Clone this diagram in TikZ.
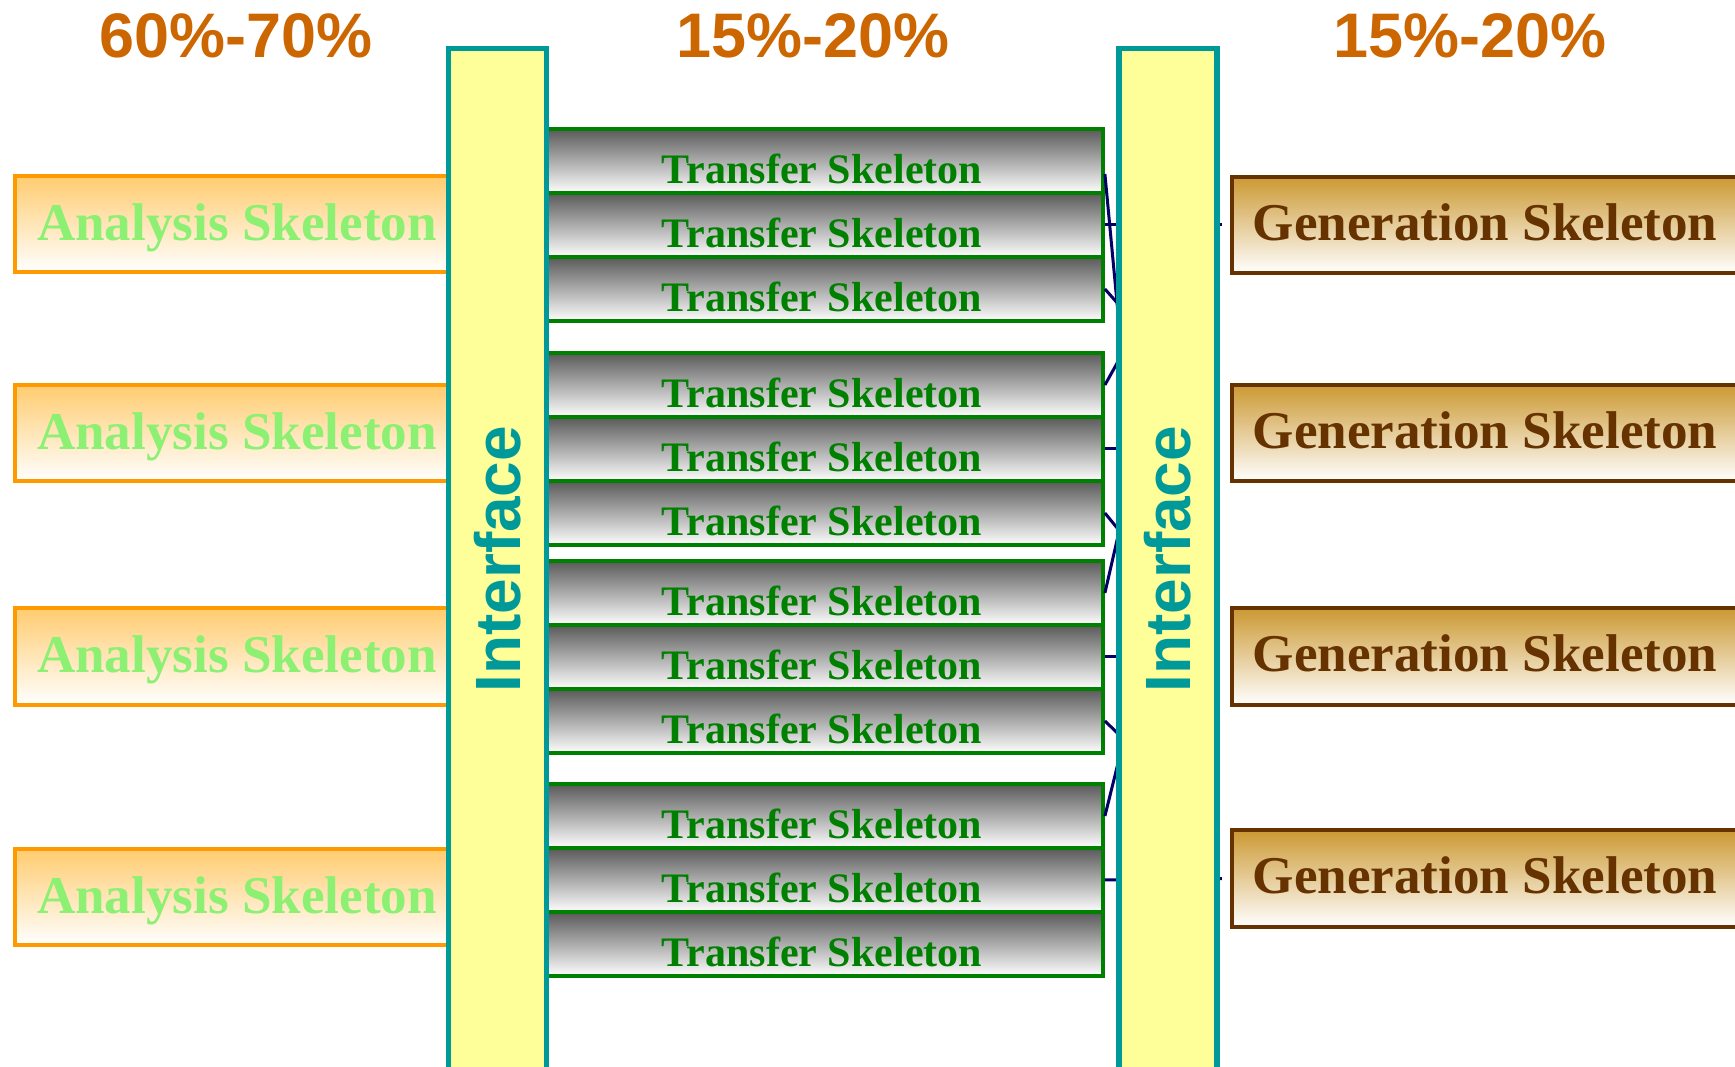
\documentclass[tikz,border=0pt]{standalone}
\usepackage{fontspec}
\setmainfont{Liberation Serif}
\newfontfamily\headfont{Liberation Sans}
\definecolor{titleorange}{HTML}{CC6600}
\definecolor{anaorange}{HTML}{FF9900}
\definecolor{anafill}{HTML}{FFCC70}
\definecolor{anagreen}{RGB}{140,240,115}
\definecolor{genbrown}{HTML}{663300}
\definecolor{genfill}{HTML}{CC9933}
\definecolor{trgreen}{HTML}{008000}
\definecolor{ifteal}{HTML}{009999}
\definecolor{ifyellow}{HTML}{FFFF99}
\definecolor{linknavy}{HTML}{000066}
\begin{document}
\begin{tikzpicture}[x=0.01cm,y=-0.01cm,
  share/.style={anchor=base, text=titleorange, font=\headfont\fontsize{17.9}{20}\selectfont\bfseries},
  analysis/.style={draw=anaorange, line width=0.04cm, top color=anafill, bottom color=white,
    minimum width=4.44cm, minimum height=0.96cm, inner sep=0pt, text height=0.32cm, text depth=0pt,
    text=anagreen, font=\fontsize{15.1}{18}\selectfont\bfseries},
  transfer/.style={draw=trgreen, line width=0.035cm, top color=black!65, middle color=black!22, bottom color=white,
    minimum width=5.62cm, minimum height=0.64cm, inner sep=0pt, text height=0.44cm, text depth=0pt,
    text=trgreen, font=\fontsize{11.95}{14}\selectfont\bfseries},
  generation/.style={draw=genbrown, line width=0.04cm, top color=genfill, bottom color=white,
    minimum width=5.06cm, minimum height=0.96cm, inner sep=0pt, text height=0.30cm, text depth=0pt,
    text=genbrown, font=\fontsize{15.1}{18}\selectfont\bfseries},
  interface/.style={draw=ifteal, line width=0.055cm, fill=ifyellow, rotate=90,
    minimum width=10.21cm, minimum height=0.975cm, inner sep=0pt,
    text=ifteal, font=\headfont\fontsize{18.2}{20}\selectfont\bfseries},
  link/.style={draw=linknavy, line width=0.03cm}]
\useasboundingbox (0,0) rectangle (1735,1067);

% shares of the effort
\node[share] (title1) at (236,58) {60\%-70\%};
\node[share] (title2) at (813,58) {15\%-20\%};
\node[share] (title3) at (1470,58) {15\%-20\%};

% analysis side
\node[analysis] (a1) at (237,224) {Analysis Skeleton};
\node[analysis] (a2) at (237,433) {Analysis Skeleton};
\node[analysis] (a3) at (237,656.5) {Analysis Skeleton};
\node[analysis] (a4) at (237,897) {Analysis Skeleton};

% transfer skeletons, four stacks of three
\node[transfer] (t11) at (822,161) {Transfer Skeleton};
\node[transfer] (t12) at (822,225) {Transfer Skeleton};
\node[transfer] (t13) at (822,289) {Transfer Skeleton};
\node[transfer] (t21) at (822,385) {Transfer Skeleton};
\node[transfer] (t22) at (822,449) {Transfer Skeleton};
\node[transfer] (t23) at (822,513) {Transfer Skeleton};
\node[transfer] (t31) at (822,593) {Transfer Skeleton};
\node[transfer] (t32) at (822,657) {Transfer Skeleton};
\node[transfer] (t33) at (822,721) {Transfer Skeleton};
\node[transfer] (t41) at (822,816) {Transfer Skeleton};
\node[transfer] (t42) at (822,880) {Transfer Skeleton};
\node[transfer] (t43) at (822,944) {Transfer Skeleton};

% generation side
\node[generation] (g1) at (1485,225) {Generation Skeleton};
\node[generation] (g2) at (1485,433) {Generation Skeleton};
\node[generation] (g3) at (1485,656.5) {Generation Skeleton};
\node[generation] (g4) at (1485,878.5) {Generation Skeleton};

% links, running in under the right interface
\coordinate (j11) at (1135,494);
\coordinate (j13) at (1135,323);
\coordinate (j21) at (1135,331);
\coordinate (j22) at (1135,449);
\coordinate (j23) at (1135,550);
\coordinate (j31) at (1135,462);
\coordinate (j32) at (1135,657);
\coordinate (j33) at (1135,750);
\coordinate (j41) at (1135,695);
\draw[link] ([yshift=-0.13cm]t11.east) -- (j11);
\draw[link, shorten >=0.08cm] (t12.east) -- (g1.west);
\draw[link] (t13.east) -- (j13);
\draw[link] (t21.east) -- (j21);
\draw[link] (t22.east) -- (j22);
\draw[link] (t23.east) -- (j23);
\draw[link] (t31.east) -- (j31);
\draw[link] (t32.east) -- (j32);
\draw[link] (t33.east) -- (j33);
\draw[link] (t41.east) -- (j41);
\draw[link, shorten >=0.08cm] (t42.east) -- (g4.west);

% the two interfaces
\node[interface] (lif) at (497.5,559.25) {Interface};
\node[interface] (rif) at (1168,559.25) {Interface};
\end{tikzpicture}
\end{document}
